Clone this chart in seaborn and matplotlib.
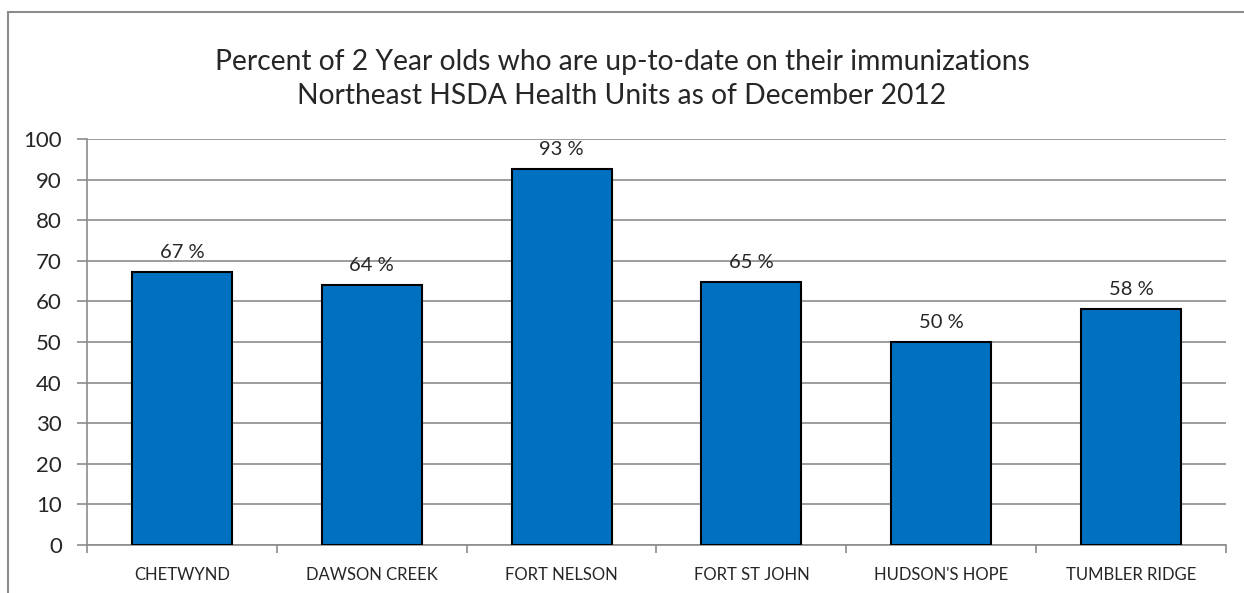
import matplotlib
matplotlib.use("Agg")
import matplotlib.pyplot as plt
import seaborn as sns
import pandas as pd
import numpy as np
from matplotlib.patches import Rectangle

units = ["CHETWYND", "DAWSON CREEK", "FORT NELSON", "FORT ST JOHN", "HUDSON'S HOPE", "TUMBLER RIDGE"]
pct_up_to_date = [67.2, 64.1, 92.6, 64.7, 50.0, 58.1]
y_ticks = [0, 10, 20, 30, 40, 50, 60, 70, 80, 90, 100]
title_lines = ["Percent of 2 Year olds who are up-to-date on their immunizations",
               "Northeast HSDA Health Units as of December 2012"]

sns.set_style("white")
plt.rcParams['font.family'] = ['Lato', 'DejaVu Sans']

df = pd.DataFrame({"unit": units, "pct": pct_up_to_date})

fig = plt.figure(figsize=(12.44, 5.93), dpi=100)
ax = fig.add_axes([0.0699, 0.0809, 0.9156, 0.6847])

grid_col = "#8c8c8c"
sns.barplot(data=df, x="unit", y="pct", color="#0070C0", saturation=1,
            width=0.527, edgecolor="black", linewidth=1.5, ax=ax, zorder=3)

ax.set_ylim(0, 100)
ax.set_xlim(-0.5, len(units) - 0.5)
ax.set_yticks(y_ticks)
ax.set_yticklabels([str(t) for t in y_ticks], fontsize=16)
ax.yaxis.grid(True, color=grid_col, linewidth=1.2, zorder=0)
ax.set_axisbelow(True)

# category boundaries get the tick marks, names sit between them
ax.set_xticks(np.arange(-0.5, len(units)), labels=[""] * (len(units) + 1))
ax.set_xticks(np.arange(len(units)), labels=units, minor=True)
ax.tick_params(axis="x", which="major", length=6, width=1.2, color=grid_col, direction="out", bottom=True)
ax.tick_params(axis="x", which="minor", length=0, labelsize=12, pad=16)
ax.tick_params(axis="y", length=7, width=1.2, color=grid_col, direction="out", left=True, pad=11)
ax.set_xlabel("")
ax.set_ylabel("")

for side in ["top", "right"]:
    ax.spines[side].set_visible(False)
for side in ["left", "bottom"]:
    ax.spines[side].set_color(grid_col)
    ax.spines[side].set_linewidth(1.2)

ax.bar_label(ax.containers[0], labels=[f"{round(v)} %" for v in pct_up_to_date],
             padding=8, fontsize=14.5)

fig.text(0.5, 1 - 62 / 593, title_lines[0], ha="center", va="center", fontsize=20.3)
fig.text(0.5, 1 - 96 / 593, title_lines[1], ha="center", va="center", fontsize=20.3)

# outer chart frame, cut off at the right and bottom
fig.add_artist(Rectangle((8 / 1244, -0.1), 1.2, 1 - 12 / 593 + 0.1, transform=fig.transFigure,
                         fill=False, edgecolor=grid_col, linewidth=1.5))

fig.savefig("out.png", dpi=100)
